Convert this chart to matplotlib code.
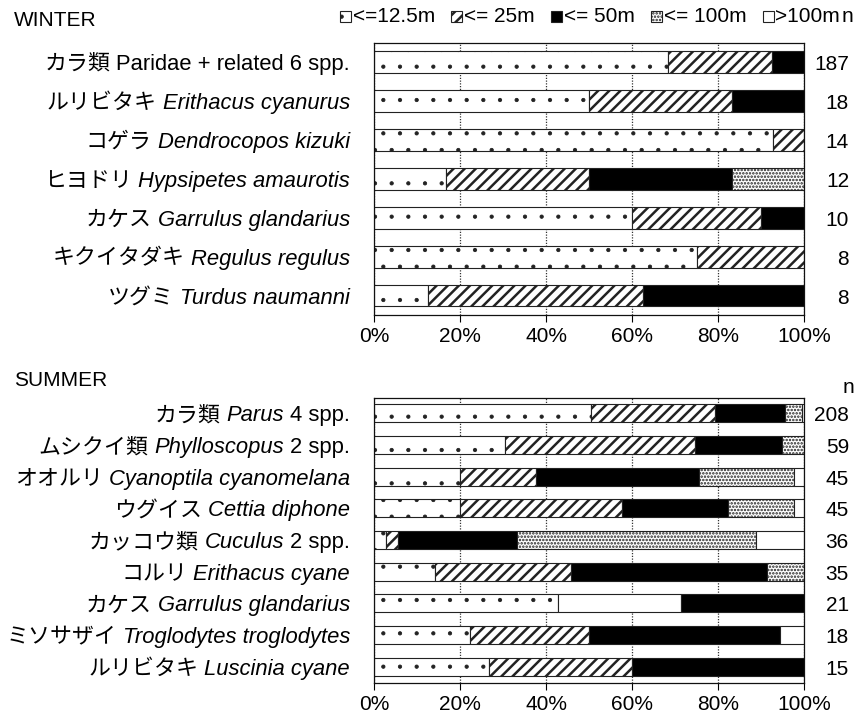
import matplotlib
matplotlib.use('Agg')
import matplotlib.pyplot as plt
import matplotlib.transforms as mtransforms
from matplotlib.patches import Rectangle
import numpy as np

plt.rcParams['font.family'] = ['Liberation Sans', 'Noto Sans CJK JP']

FS = 15      # ticks, legend, headers
FS_LAB = 15.8  # species labels
W, H = 858, 718

# distance classes and their fills: (hatch, face, hatch lw)
classes = ['<=12.5m', '<= 25m', '<= 50m', '<= 100m', '>100m']
styles = [('.', 'white', 0.6), ('///', 'white', 1.8), ('', 'black', 1.0),
          ('.....', 'white', 1.2), ('', 'white', 1.0)]

# WINTER
winter_jp = ['カラ類', 'ルリビタキ', 'コゲラ', 'ヒヨドリ', 'カケス', 'キクイタダキ', 'ツグミ']
winter_sci = ['', 'Erithacus cyanurus', 'Dendrocopos kizuki', 'Hypsipetes amaurotis',
              'Garrulus glandarius', 'Regulus regulus', 'Turdus naumanni']
winter_tail = ['Paridae + related 6 spp.', '', '', '', '', '', '']
winter_n = [187, 18, 14, 12, 10, 8, 8]
winter_d12 = [128, 9, 13, 2, 6, 6, 1]
winter_d25 = [45, 6, 1, 4, 3, 2, 4]
winter_d50 = [14, 3, 0, 4, 1, 0, 3]
winter_d100 = [0, 0, 0, 2, 0, 0, 0]
winter_over = [0, 0, 0, 0, 0, 0, 0]

# SUMMER
summer_jp = ['カラ類', 'ムシクイ類', 'オオルリ', 'ウグイス', 'カッコウ類', 'コルリ',
             'カケス', 'ミソサザイ', 'ルリビタキ']
summer_sci = ['Parus', 'Phylloscopus', 'Cyanoptila cyanomelana', 'Cettia diphone',
              'Cuculus', 'Erithacus cyane', 'Garrulus glandarius',
              'Troglodytes troglodytes', 'Luscinia cyane']
summer_tail = ['4 spp.', '2 spp.', '', '', '2 spp.', '', '', '', '']
summer_n = [208, 59, 45, 45, 36, 35, 21, 18, 15]
summer_d12 = [105, 18, 9, 9, 1, 5, 9, 4, 4]
summer_d25 = [60, 26, 8, 17, 1, 11, 6, 5, 5]
summer_d50 = [34, 12, 17, 11, 10, 16, 6, 8, 6]
summer_d100 = [8, 3, 10, 7, 20, 3, 0, 0, 0]
summer_over = [1, 0, 1, 1, 4, 0, 0, 1, 0]
# カケス summer: 25m segment was left unfilled
summer_plain = [(6, 1)]

xticks = [0, 20, 40, 60, 80, 100]

fig = plt.figure(figsize=(W / 100, H / 100), dpi=100)
ax_w = fig.add_axes([374 / W, 1 - 315 / H, 430 / W, 272.5 / H])
ax_s = fig.add_axes([374 / W, 1 - 682.5 / H, 430 / W, 285 / H])
renderer = fig.canvas.get_renderer()


def draw_panel(ax, counts, n, plain=()):
    n = np.array(n, dtype=float)
    y = np.arange(len(n))
    left = np.zeros(len(n))
    bars = {}
    for k, (hatch, fc, hlw) in enumerate(styles):
        pct = np.array(counts[k]) / n * 100
        m = pct > 0
        with plt.rc_context({'hatch.linewidth': hlw}):
            bc = ax.barh(y[m], pct[m], left=left[m], height=0.56, color=fc,
                         edgecolor='#222222', linewidth=0.8,
                         hatch=hatch or None, zorder=2)
        for i, b in zip(y[m], bc):
            bars[(i, k)] = b
        left += pct
    for key in plain:
        bars[key].set_hatch(None)
    ax.set_xlim(0, 100)
    ax.set_ylim(len(n) - 0.5, -0.5)
    ax.set_xticks(xticks)
    ax.set_xticklabels([f'{v}%' for v in xticks], fontsize=FS)
    ax.set_yticks([])
    ax.grid(axis='x', linestyle=(0, (1, 1.2)), color='#333333', linewidth=0.9)
    ax.set_axisbelow(True)
    ax.tick_params(axis='x', direction='out', length=5, width=0.8, pad=4)
    for s in ax.spines.values():
        s.set_color('#111111')
        s.set_linewidth(0.9)


def row_labels(ax, jp, sci, tail, n):
    tr = mtransforms.blended_transform_factory(fig.transFigure, ax.transData)
    tr = tr + mtransforms.ScaledTranslation(0, -0.37 * FS_LAB / 72, fig.dpi_scale_trans)
    gap = 0.278 * FS_LAB * 100 / 72
    for i in range(len(jp)):
        pieces = [(jp[i], {})]
        if sci[i]:
            pieces.append((sci[i], {'style': 'italic'}))
        if tail[i]:
            pieces.append((tail[i], {}))
        x = 350
        for txt, kw in reversed(pieces):
            t = fig.text(x / W, i, txt, transform=tr, ha='right', va='baseline',
                         fontsize=FS_LAB, **kw)
            x -= t.get_window_extent(renderer).width + gap
        fig.text(849 / W, i, str(n[i]), transform=tr, ha='right', va='baseline',
                 fontsize=FS)


draw_panel(ax_w, [winter_d12, winter_d25, winter_d50, winter_d100, winter_over], winter_n)
draw_panel(ax_s, [summer_d12, summer_d25, summer_d50, summer_d100, summer_over], summer_n,
           summer_plain)
row_labels(ax_w, winter_jp, winter_sci, winter_tail, winter_n)
row_labels(ax_s, summer_jp, summer_sci, summer_tail, summer_n)

fig.text(14 / W, 1 - 20 / H, 'WINTER', ha='left', va='center', fontsize=FS)
fig.text(14 / W, 1 - 381 / H, 'SUMMER', ha='left', va='center', fontsize=FS)
fig.text(848 / W, 1 - 388 / H, 'n', ha='center', va='center', fontsize=FS)

# legend row, laid out from the right edge
ly = 16
x = 853
t = fig.text(x / W, 1 - ly / H, 'n', ha='right', va='center', fontsize=FS)
x -= t.get_window_extent(renderer).width + 1
box = 11
for k in range(len(classes) - 1, -1, -1):
    t = fig.text(x / W, 1 - ly / H, classes[k], ha='right', va='center', fontsize=FS)
    x -= t.get_window_extent(renderer).width + 2
    hatch, fc, hlw = styles[k]
    with plt.rc_context({'hatch.linewidth': hlw}):
        r = Rectangle(((x - box) / W, 1 - (ly + box / 2) / H), box / W, box / H,
                      transform=fig.transFigure, facecolor=fc, edgecolor='#222222',
                      linewidth=0.8, hatch=hatch or None)
    fig.add_artist(r)
    x -= box + 16

fig.savefig('out.png', dpi=100)
